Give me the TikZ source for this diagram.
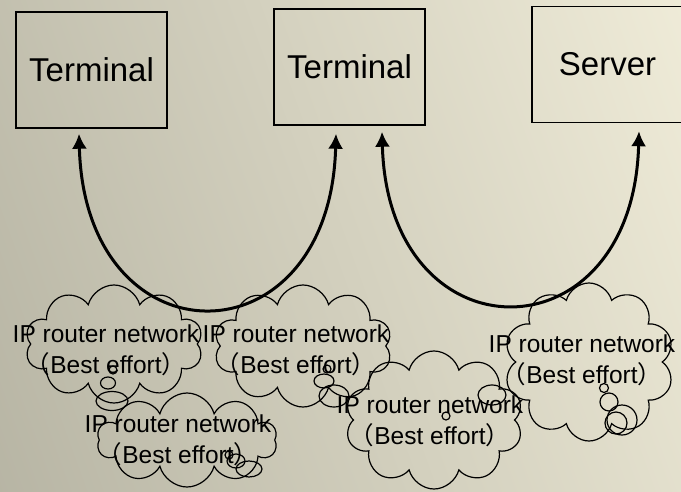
\documentclass[tikz,border=0pt]{standalone}
\usepackage{fontspec}
\setmainfont{Liberation Sans}
\newfontfamily\cjk{Noto Sans CJK JP}
\usetikzlibrary{shapes.symbols,arrows.meta}

\definecolor{bgL}{RGB}{168,166,150}
\definecolor{bgR}{RGB}{254,250,230}
\pgfdeclarehorizontalshading{bgshade}{100bp}{color(0bp)=(bgL); color(100bp)=(bgR)}

% full-width parentheses taken from the Japanese face
\newcommand{\fwl}{{\cjk （}}
\newcommand{\fwr}{{\cjk ）}}

\begin{document}
\begin{tikzpicture}[x=1pt,y=-1pt,
  box/.style={draw, line width=1.4pt, minimum width=151pt, minimum height=116pt,
    inner sep=0pt, font=\fontsize{33}{33}\selectfont},
  netcloud/.style={cloud, draw, cloud puffs=10, cloud ignores aspect,
    line width=1.2pt, inner sep=0pt},
  netlabel/.style={align=center, inner sep=0pt, font=\fontsize{24.5}{31}\selectfont},
  bubble/.style={draw, line width=1.2pt},
  link/.style={line width=3pt,
    {Latex[length=15pt,width=15pt]}-{Latex[length=15pt,width=15pt]}}
]
% background
\shade[shading=bgshade, shading angle=20] (0,0) rectangle (681,491);
\useasboundingbox (0,0) rectangle (681,491);

% end systems
\node[box] (b1) at (91.5,70) {Terminal};
\node[box] (b2) at (349.5,67) {Terminal};
\node[box] (b3) at (607.5,64.5) {Server};

% router network clouds
\node[netcloud, minimum width=178pt, minimum height=118pt] (cA) at (114,344) {};
\node[netcloud, minimum width=178pt, minimum height=122pt] (cB) at (303,346) {};
\node[netcloud, minimum width=180pt, minimum height=94pt]  (cC) at (187,440) {};
\node[netcloud, minimum width=178pt, minimum height=138pt] (cD) at (434,420) {};
\node[netcloud, minimum width=170pt, minimum height=158pt] (cE) at (589,362) {};

% thought-bubble tails
\draw[bubble] (113,370) circle [radius=4];
\draw[bubble] (108,383) ellipse [x radius=7.5, y radius=6];
\draw[bubble] (112,401) ellipse [x radius=16, y radius=9.5];

\draw[bubble] (327,369) circle [radius=4];
\draw[bubble] (324,381) ellipse [x radius=10, y radius=7];
\draw[bubble] (334,396) ellipse [x radius=15, y radius=11];

\draw[bubble] (229,455) circle [radius=4];
\draw[bubble] (236,461) ellipse [x radius=9, y radius=7];
\draw[bubble] (249,469) ellipse [x radius=13, y radius=8];

\draw[bubble] (446,416) circle [radius=4];
\draw[bubble] (492,395) ellipse [x radius=14, y radius=10];

\draw[bubble] (604,388) circle [radius=4.5];
\draw[bubble] (609,402) circle [radius=9];
\draw[bubble] (616,423) circle [radius=11];
\draw[bubble] (622,420) circle [radius=15];

% cloud labels
\node[netlabel] (lA) at (106,350) {IP router network\\\fwl Best effort\fwr};
\node[netlabel] (lB) at (296,350) {IP router network\\\fwl Best effort\fwr};
\node[netlabel] (lC) at (178,440) {IP router network\\\fwl Best effort\fwr};
\node[netlabel] (lD) at (430,421) {IP router network\\\fwl Best effort\fwr};
\node[netlabel] (lE) at (582,360) {IP router network\\\fwl Best effort\fwr};

% end-to-end paths
\draw[link] ([xshift=-12.5pt,yshift=-5pt]b1.south)
  .. controls +(6,232) and +(-6,232) .. ([xshift=-13.5pt,yshift=-8pt]b2.south);
\draw[link] ([xshift=32.5pt,yshift=-6pt]b2.south)
  .. controls +(6,229) and +(-6,230) .. ([xshift=31.5pt,yshift=-8pt]b3.south);
\end{tikzpicture}
\end{document}
